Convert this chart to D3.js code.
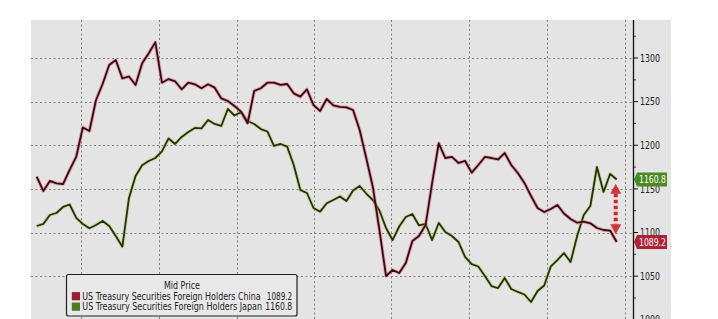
<!DOCTYPE html>
<html><head><meta charset="utf-8">
<script src="https://cdn.jsdelivr.net/npm/d3@7"></script>
<style>
html,body{margin:0;padding:0;background:#fff;overflow:hidden;}
svg{display:block;}
</style></head>
<body>
<svg id="chart" width="718" height="319"></svg>
<script>
// ---- data (monthly, index-based) ----
const china = [1164.0,1147.6,1159.1,1156.4,1155.6,1171.7,1186.9,1220.4,1216.4,1251.9,
1270.2,1292.0,1297.7,1276.7,1278.8,1269.1,1293.9,1305.4,1318.0,1271.7,
1275.9,1273.3,1264.1,1271.7,1269.9,1265.3,1269.9,1266.0,1253.8,1250.7,
1245.0,1238.5,1225.2,1262.2,1265.3,1271.7,1271.7,1269.1,1270.2,1259.5,
1255.7,1264.1,1246.1,1239.3,1253.0,1245.6,1243.9,1243.5,1240.4,1217.5,
1185.4,1152.2,1102.9,1050.2,1057.1,1053.6,1065.1,1090.3,1096.0,1108.6,
1156.8,1202.3,1185.4,1186.6,1179.7,1182.0,1168.6,1177.4,1186.6,1185.4,
1183.7,1191.1,1177.4,1168.2,1156.8,1141.9,1128.1,1123.5,1127.0,1131.6,
1121.8,1115.5,1111.3,1112.4,1110.6,1105.2,1102.9,1102.3,1089.2];
const japan = [1107.5,1109.8,1120.1,1122.4,1129.3,1132.1,1116.7,1109.8,1104.9,1108.6,
1113.2,1107.5,1096.0,1083.8,1139.6,1164.8,1177.0,1182.0,1185.4,1193.0,
1207.8,1201.5,1209.5,1215.2,1219.9,1219.4,1229.0,1224.4,1222.1,1241.6,
1234.1,1238.1,1227.8,1224.4,1218.6,1215.8,1199.2,1201.5,1198.4,1177.4,
1148.7,1145.3,1128.1,1123.9,1133.5,1137.3,1141.3,1136.1,1148.2,1153.3,
1144.7,1137.3,1125.3,1105.2,1091.4,1106.9,1117.8,1121.2,1108.1,1109.8,
1091.4,1110.9,1100.6,1096.0,1089.2,1072.0,1063.9,1061.1,1050.2,1038.7,
1036.4,1047.9,1035.3,1031.9,1029.0,1020.4,1033.0,1039.3,1061.1,1068.5,
1076.5,1066.2,1096.0,1120.1,1130.4,1175.1,1146.5,1167.1,1160.8];
const seriesNames = ["US Treasury Securities Foreign Holders China","US Treasury Securities Foreign Holders Japan"];
const lastValues = ["1089.2","1160.8"];
const legendTitle = "Mid Price";
const yMajorTicks = [1000,1050,1100,1150,1200,1250,1300];
const yMinorTicks = [1025,1075,1125,1175,1225,1275,1325];
const yearGrid = [6.7,18.55,30.4,42.0,53.8,65.65,77.5,89.3];
const spreadArrow = {idx:[87.85], from:[1156], to:[1098]};

// ---- layout ----
const W=718,H=319;
const plotL=31, plotR=671, plotT=20, axisX=633;
const x = d3.scaleLinear().domain([0,88]).range([36.7,616.7]);
const y = d3.scaleLinear().domain([1000,1300]).range([319.8,58]);

const svg = d3.select("#chart");
const FONT = "'DejaVu Sans Condensed','DejaVu Sans',Verdana,sans-serif";

// text squeezed horizontally to a target width (via transform, so boxes stay true)
function fitText(parent, str, px, py, width, anchor, color){
  const g = parent.append("g");
  const t = g.append("text").attr("x",0).attr("y",0).attr("dy","0.36em")
    .attr("font-family",FONT).attr("font-size",10).attr("fill",color||"#222").text(str);
  const nat = t.node().getComputedTextLength() || width;
  const s = width/nat;
  let x0 = px;
  if(anchor==="middle") x0 = px - width/2;
  if(anchor==="end") x0 = px - width;
  g.attr("transform",`translate(${x0},${py}) scale(${s},1)`);
  return g;
}

svg.append("rect").attr("x",plotL).attr("y",plotT).attr("width",plotR-plotL).attr("height",H-plotT+5).attr("fill","#e4e4e4");

// grid
const grid = svg.append("g").attr("stroke","#7d7d7d").attr("stroke-width",1).attr("stroke-dasharray","2,2.5");
grid.selectAll("line.h").data(yMajorTicks).join("line")
  .attr("x1",plotL).attr("x2",axisX).attr("y1",d=>Math.round(y(d))+0.5).attr("y2",d=>Math.round(y(d))+0.5);
grid.selectAll("line.v").data(yearGrid).join("line")
  .attr("y1",plotT).attr("y2",H).attr("x1",d=>Math.round(x(d))+0.5).attr("x2",d=>Math.round(x(d))+0.5);

// lines
const line = d3.line().x((d,i)=>x(i)).y(d=>y(d));
function drawSeries(data, halo, core){
  svg.append("path").datum(data).attr("d",line).attr("fill","none")
    .attr("stroke",halo).attr("stroke-width",3.6).attr("stroke-opacity",0.55).attr("stroke-linejoin","round");
  svg.append("path").datum(data).attr("d",line).attr("fill","none")
    .attr("stroke",core).attr("stroke-width",1.8).attr("stroke-linejoin","round");
}
drawSeries(japan,"#b9cf6a","#24310b");
drawSeries(china,"#d9707f","#3a0914");

// right axis
const ax = svg.append("g");
ax.append("line").attr("x1",axisX+0.5).attr("x2",axisX+0.5).attr("y1",plotT).attr("y2",H).attr("stroke","#111").attr("stroke-width",1.3);
ax.selectAll("line.maj").data(yMajorTicks).join("line")
  .attr("x1",axisX+1).attr("x2",axisX+5).attr("y1",d=>y(d)).attr("y2",d=>y(d)).attr("stroke","#111");
ax.selectAll("line.min").data(yMinorTicks).join("line")
  .attr("x1",axisX+1).attr("x2",axisX+3).attr("y1",d=>y(d)).attr("y2",d=>y(d)).attr("stroke","#333");
yMajorTicks.forEach(v=>fitText(ax, String(v), axisX+7, y(v), 20, "start", "#222"));

// spread arrow
const ag = svg.append("g").attr("fill","#d3242c").attr("stroke","#d3242c");
const axx = x(spreadArrow.idx[0]), yTop=y(spreadArrow.from[0]), yBot=y(spreadArrow.to[0]);
ag.append("path").attr("stroke","none").attr("opacity",0.92)
  .attr("d",`M${axx},${yTop} L${axx+5.5},${yTop+10} L${axx-5.5},${yTop+10} Z`);
ag.append("path").attr("stroke","none").attr("opacity",0.92)
  .attr("d",`M${axx},${yBot} L${axx+5.5},${yBot-10} L${axx-5.5},${yBot-10} Z`);
ag.append("line").attr("x1",axx).attr("x2",axx).attr("y1",yTop+10).attr("y2",yBot-10)
  .attr("stroke-width",4).attr("stroke-dasharray","3.5,2.5").attr("fill","none");

// value badges
function badge(val, label, color){
  const cy=y(val);
  svg.append("path").attr("fill",color)
    .attr("d",`M${axisX+1},${cy} L${axisX+4},${cy-7} L${axisX+34},${cy-7} L${axisX+34},${cy+7} L${axisX+4},${cy+7} Z`);
  fitText(svg, label, axisX+19.5, cy, 27, "middle", "#fff");
}
badge(+lastValues[1], lastValues[1], "#4b8a1e");
badge(+lastValues[0], lastValues[0], "#b41f35");

// legend
const lg = svg.append("g");
lg.append("rect").attr("x",66.5).attr("y",274.5).attr("width",230.5).attr("height",41.5).attr("rx",2)
  .attr("fill","#e8e8e8").attr("stroke","#222").attr("stroke-width",1.2);
fitText(lg, legendTitle, 182, 285, 36, "middle", "#222");
const legColors=["#9e1b30","#4a7d1c"];
seriesNames.forEach((n,i)=>{
  const cy = 296.3 + i*10.5;
  lg.append("rect").attr("x",71.8).attr("y",cy-4.2).attr("width",8.2).attr("height",8.2).attr("fill",legColors[i]);
  fitText(lg, n, 82.3, cy, i===0?178.5:180, "start", "#222");
  fitText(lg, lastValues[i], 292.3, cy, i===0?25.5:27, "end", "#222");
});
</script>
</body></html>
